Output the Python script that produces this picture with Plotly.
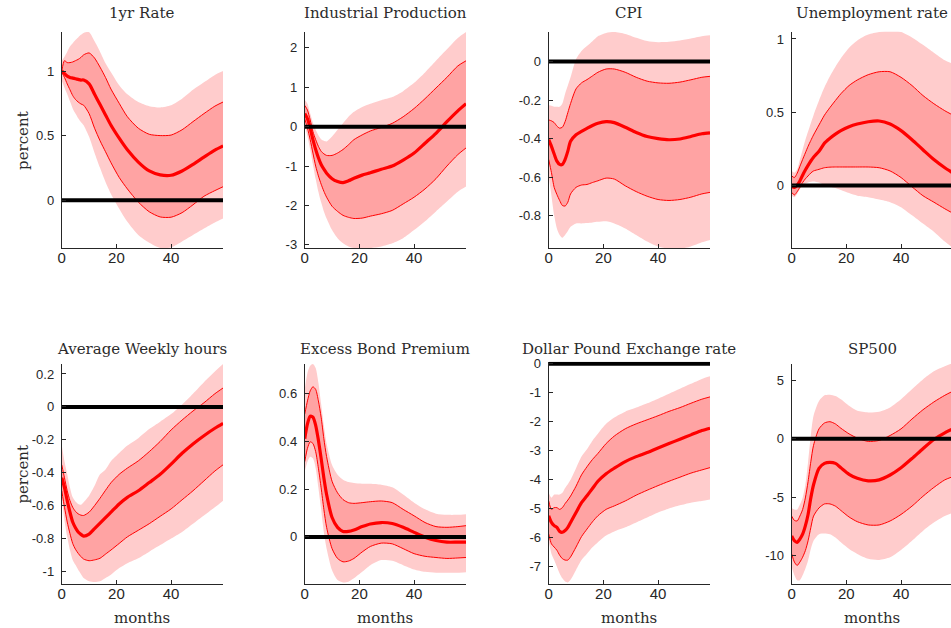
import plotly.graph_objects as go

# Impulse responses to a monetary policy shock: posterior median with
# 68% and 90% credible bands, horizons in months.
MONTHS = [0, 1, 2, 3, 4, 5, 6, 7, 8, 10, 12, 14, 16, 18, 21, 24, 28, 32, 36, 40, 44, 48, 52, 56, 59]

# 1yr Rate
rate_med = [1.0, 0.98, 0.96, 0.95, 0.945, 0.94, 0.935, 0.93, 0.93, 0.90, 0.82, 0.74, 0.66, 0.58, 0.48, 0.39, 0.295, 0.226, 0.196, 0.193, 0.226, 0.277, 0.333, 0.387, 0.42]
rate_hi68 = [1.0, 1.08, 1.065, 1.065, 1.07, 1.08, 1.09, 1.105, 1.125, 1.14, 1.10, 1.03, 0.95, 0.86, 0.75, 0.646, 0.557, 0.51, 0.50, 0.504, 0.545, 0.608, 0.67, 0.728, 0.76]
rate_lo68 = [0.99, 0.95, 0.90, 0.855, 0.81, 0.78, 0.76, 0.745, 0.735, 0.67, 0.557, 0.46, 0.375, 0.29, 0.176, 0.087, -0.015, -0.09, -0.13, -0.132, -0.097, -0.036, 0.03, 0.074, 0.104]
rate_hi90 = [1.08, 1.11, 1.15, 1.19, 1.215, 1.24, 1.26, 1.28, 1.295, 1.30, 1.23, 1.15, 1.06, 0.99, 0.89, 0.82, 0.76, 0.728, 0.718, 0.735, 0.786, 0.855, 0.913, 0.97, 1.0]
rate_lo90 = [0.926, 0.87, 0.82, 0.765, 0.71, 0.67, 0.634, 0.605, 0.58, 0.49, 0.366, 0.25, 0.14, 0.048, -0.066, -0.168, -0.27, -0.33, -0.37, -0.366, -0.32, -0.27, -0.22, -0.173, -0.142]

# Industrial Production
ip_med = [0.33, 0.2, -0.04, -0.33, -0.58, -0.79, -0.96, -1.08, -1.18, -1.32, -1.39, -1.42, -1.375, -1.31, -1.23, -1.17, -1.08, -1.0, -0.85, -0.67, -0.42, -0.17, 0.125, 0.4, 0.58]
ip_hi68 = [0.54, 0.42, 0.17, -0.125, -0.33, -0.5, -0.625, -0.69, -0.73, -0.73, -0.67, -0.58, -0.46, -0.33, -0.21, -0.11, -0.02, 0.083, 0.25, 0.46, 0.71, 0.98, 1.25, 1.54, 1.67]
ip_lo68 = [0.2, -0.04, -0.33, -0.67, -1.0, -1.25, -1.46, -1.64, -1.79, -2.02, -2.15, -2.25, -2.3, -2.33, -2.32, -2.27, -2.21, -2.125, -1.96, -1.79, -1.58, -1.32, -1.0, -0.71, -0.54]
ip_hi90 = [0.68, 0.58, 0.33, 0.1, -0.08, -0.22, -0.32, -0.36, -0.375, -0.25, -0.08, 0.083, 0.25, 0.375, 0.5, 0.58, 0.67, 0.75, 0.9, 1.11, 1.375, 1.67, 1.96, 2.25, 2.4]
ip_lo90 = [0.04, -0.25, -0.58, -0.96, -1.33, -1.65, -1.92, -2.15, -2.33, -2.625, -2.83, -2.96, -3.04, -3.08, -3.1, -3.08, -3.04, -2.96, -2.83, -2.625, -2.4, -2.15, -1.9, -1.65, -1.52]

# CPI
cpi_med = [-0.406, -0.44, -0.48, -0.517, -0.534, -0.534, -0.508, -0.465, -0.414, -0.38, -0.363, -0.347, -0.332, -0.32, -0.312, -0.317, -0.341, -0.368, -0.389, -0.4, -0.406, -0.402, -0.389, -0.375, -0.37]
cpi_hi68 = [-0.303, -0.308, -0.317, -0.335, -0.346, -0.341, -0.312, -0.265, -0.218, -0.142, -0.111, -0.094, -0.075, -0.056, -0.039, -0.039, -0.056, -0.082, -0.102, -0.111, -0.113, -0.107, -0.095, -0.082, -0.077]
cpi_lo68 = [-0.508, -0.576, -0.653, -0.69, -0.721, -0.747, -0.75, -0.73, -0.687, -0.653, -0.641, -0.638, -0.628, -0.619, -0.605, -0.61, -0.645, -0.675, -0.699, -0.716, -0.721, -0.716, -0.704, -0.687, -0.679]
cpi_hi90 = [-0.227, -0.23, -0.235, -0.235, -0.235, -0.218, -0.167, -0.125, -0.082, 0.012, 0.055, 0.08, 0.105, 0.131, 0.148, 0.153, 0.143, 0.123, 0.106, 0.1, 0.102, 0.109, 0.119, 0.131, 0.136]
cpi_lo90 = [-0.593, -0.696, -0.798, -0.866, -0.9, -0.914, -0.9, -0.88, -0.858, -0.84, -0.84, -0.838, -0.835, -0.832, -0.829, -0.84, -0.866, -0.9, -0.934, -0.96, -0.972, -0.972, -0.96, -0.938, -0.926]

# Unemployment rate
ur_med = [-0.007, -0.013, 0.002, 0.031, 0.07, 0.105, 0.137, 0.167, 0.193, 0.233, 0.289, 0.322, 0.35, 0.374, 0.401, 0.419, 0.435, 0.44, 0.419, 0.374, 0.312, 0.244, 0.177, 0.121, 0.085]
ur_hi68 = [0.065, 0.054, 0.083, 0.13, 0.177, 0.222, 0.267, 0.307, 0.345, 0.413, 0.48, 0.532, 0.58, 0.626, 0.682, 0.72, 0.756, 0.776, 0.776, 0.738, 0.682, 0.614, 0.558, 0.51, 0.48]
ur_lo68 = [-0.047, -0.065, -0.043, -0.013, 0.02, 0.045, 0.065, 0.085, 0.099, 0.11, 0.121, 0.125, 0.126, 0.126, 0.126, 0.126, 0.126, 0.121, 0.099, 0.054, -0.009, -0.07, -0.114, -0.159, -0.19]
ur_hi90 = [0.099, 0.087, 0.11, 0.175, 0.244, 0.31, 0.368, 0.425, 0.48, 0.58, 0.67, 0.745, 0.81, 0.868, 0.94, 0.99, 1.03, 1.047, 1.05, 1.047, 1.01, 0.96, 0.906, 0.854, 0.83]
ur_lo90 = [-0.07, -0.08, -0.058, -0.025, 0.002, 0.012, 0.02, 0.025, 0.027, 0.02, 0.004, -0.008, -0.018, -0.031, -0.052, -0.07, -0.08, -0.096, -0.114, -0.148, -0.204, -0.26, -0.316, -0.383, -0.428]

# Average Weekly hours
hrs_med = [-0.431, -0.49, -0.57, -0.64, -0.7, -0.735, -0.76, -0.775, -0.785, -0.773, -0.74, -0.707, -0.673, -0.64, -0.59, -0.55, -0.51, -0.46, -0.41, -0.348, -0.282, -0.225, -0.175, -0.13, -0.1]
hrs_hi68 = [-0.352, -0.431, -0.51, -0.57, -0.61, -0.635, -0.65, -0.658, -0.66, -0.64, -0.6, -0.555, -0.507, -0.461, -0.41, -0.372, -0.328, -0.272, -0.21, -0.14, -0.08, -0.025, 0.025, 0.08, 0.115]
hrs_lo68 = [-0.51, -0.61, -0.70, -0.77, -0.83, -0.865, -0.89, -0.91, -0.925, -0.935, -0.93, -0.92, -0.895, -0.87, -0.83, -0.79, -0.75, -0.71, -0.665, -0.62, -0.565, -0.51, -0.45, -0.39, -0.352]
hrs_hi90 = [-0.233, -0.332, -0.41, -0.49, -0.55, -0.575, -0.59, -0.595, -0.58, -0.54, -0.48, -0.41, -0.38, -0.33, -0.28, -0.235, -0.19, -0.135, -0.09, -0.044, 0.015, 0.08, 0.15, 0.215, 0.26]
hrs_lo90 = [-0.55, -0.69, -0.79, -0.87, -0.93, -0.96, -0.99, -1.015, -1.04, -1.06, -1.065, -1.06, -1.04, -1.02, -0.98, -0.95, -0.92, -0.88, -0.84, -0.8, -0.76, -0.71, -0.66, -0.61, -0.57]

# Excess Bond Premium
ebp_med = [0.41, 0.472, 0.504, 0.5, 0.466, 0.404, 0.328, 0.246, 0.177, 0.081, 0.04, 0.023, 0.023, 0.029, 0.043, 0.054, 0.06, 0.056, 0.04, 0.019, -0.001, -0.015, -0.022, -0.022, -0.022]
ebp_hi68 = [0.513, 0.568, 0.61, 0.627, 0.616, 0.568, 0.5, 0.41, 0.335, 0.232, 0.184, 0.156, 0.143, 0.14, 0.143, 0.147, 0.15, 0.143, 0.115, 0.088, 0.06, 0.043, 0.04, 0.043, 0.047]
ebp_lo68 = [0.314, 0.37, 0.397, 0.39, 0.356, 0.287, 0.205, 0.115, 0.04, -0.049, -0.09, -0.104, -0.101, -0.09, -0.063, -0.04, -0.026, -0.029, -0.049, -0.07, -0.081, -0.086, -0.09, -0.088, -0.086]
ebp_hi90 = [0.616, 0.685, 0.715, 0.722, 0.705, 0.644, 0.555, 0.465, 0.39, 0.3, 0.26, 0.239, 0.229, 0.225, 0.222, 0.222, 0.218, 0.207, 0.177, 0.143, 0.115, 0.097, 0.092, 0.092, 0.095]
ebp_lo90 = [0.273, 0.314, 0.335, 0.328, 0.287, 0.205, 0.115, 0.019, -0.049, -0.139, -0.18, -0.19, -0.187, -0.173, -0.146, -0.118, -0.097, -0.1, -0.118, -0.136, -0.146, -0.15, -0.15, -0.15, -0.148]

# Dollar Pound Exchange rate
fx_med = [-5.24, -5.47, -5.58, -5.64, -5.78, -5.81, -5.75, -5.64, -5.47, -5.13, -4.79, -4.55, -4.3, -4.05, -3.79, -3.6, -3.37, -3.2, -3.06, -2.9, -2.75, -2.6, -2.45, -2.3, -2.22]
fx_hi68 = [-4.73, -5.02, -4.96, -4.96, -5.02, -4.96, -4.82, -4.7, -4.56, -4.22, -3.83, -3.55, -3.3, -3.09, -2.75, -2.49, -2.24, -2.07, -1.93, -1.79, -1.64, -1.51, -1.36, -1.22, -1.14]
fx_lo68 = [-5.87, -6.21, -6.32, -6.43, -6.6, -6.72, -6.77, -6.77, -6.66, -6.32, -5.96, -5.7, -5.45, -5.24, -5.02, -4.9, -4.73, -4.53, -4.36, -4.2, -4.05, -3.91, -3.77, -3.66, -3.58]
fx_hi90 = [-4.45, -4.62, -4.51, -4.51, -4.51, -4.45, -4.28, -4.15, -4.0, -3.6, -3.2, -2.95, -2.65, -2.41, -2.07, -1.85, -1.65, -1.51, -1.36, -1.2, -1.03, -0.86, -0.69, -0.52, -0.43]
fx_lo90 = [-6.09, -6.55, -6.77, -7.0, -7.23, -7.4, -7.51, -7.54, -7.45, -7.11, -6.77, -6.55, -6.33, -6.15, -5.92, -5.78, -5.64, -5.47, -5.3, -5.13, -4.99, -4.88, -4.79, -4.73, -4.68]

# SP500
sp_med = [-8.31, -8.73, -8.87, -8.59, -8.17, -7.46, -6.48, -5.07, -3.94, -2.54, -2.11, -2.03, -2.11, -2.48, -3.04, -3.38, -3.6, -3.52, -3.1, -2.48, -1.69, -0.85, -0.06, 0.51, 0.85]
sp_hi68 = [-6.62, -6.99, -7.04, -6.62, -6.06, -5.07, -3.66, -1.97, -0.56, 0.85, 1.35, 1.46, 1.27, 0.9, 0.42, 0.06, -0.23, -0.14, 0.28, 0.85, 1.69, 2.48, 3.15, 3.72, 4.08]
sp_lo68 = [-9.86, -10.56, -10.85, -10.56, -10.14, -9.58, -8.73, -7.61, -6.62, -5.92, -5.58, -5.58, -5.77, -6.14, -6.7, -7.1, -7.38, -7.38, -7.04, -6.48, -5.77, -4.93, -4.17, -3.52, -3.24]
sp_hi90 = [-5.92, -6.06, -6.06, -5.63, -5.07, -3.94, -1.97, 0.28, 1.97, 3.24, 3.72, 3.77, 3.66, 3.38, 2.82, 2.39, 2.25, 2.31, 2.68, 3.38, 4.23, 5.07, 5.77, 6.2, 6.48]
sp_lo90 = [-10.99, -11.69, -12.11, -12.11, -11.69, -11.13, -10.42, -9.44, -8.73, -8.17, -8.11, -8.17, -8.45, -8.87, -9.44, -9.86, -10.28, -10.37, -10.14, -9.52, -8.73, -7.89, -7.18, -6.62, -6.34]

TITLES = ["1yr Rate", "Industrial Production", "CPI", "Unemployment rate",
          "Average Weekly hours", "Excess Bond Premium", "Dollar Pound Exchange rate", "SP500"]

rate_ticks = [0, 0.5, 1]
ip_ticks = [-3, -2, -1, 0, 1, 2]
cpi_ticks = [-0.8, -0.6, -0.4, -0.2, 0]
ur_ticks = [0, 0.5, 1]
hrs_ticks = [-1, -0.8, -0.6, -0.4, -0.2, 0, 0.2]
ebp_ticks = [0, 0.2, 0.4, 0.6]
fx_ticks = [-7, -6, -5, -4, -3, -2, -1, 0]
sp_ticks = [-10, -5, 0, 5]
month_ticks = [0, 20, 40]

panels = [
    (rate_med, rate_lo68, rate_hi68, rate_lo90, rate_hi90, rate_ticks, [-0.374, 1.305]),
    (ip_med, ip_lo68, ip_hi68, ip_lo90, ip_hi90, ip_ticks, [-3.09, 2.41]),
    (cpi_med, cpi_lo68, cpi_hi68, cpi_lo90, cpi_hi90, cpi_ticks, [-0.97, 0.155]),
    (ur_med, ur_lo68, ur_hi68, ur_lo90, ur_hi90, ur_ticks, [-0.43, 1.05]),
    (hrs_med, hrs_lo68, hrs_hi68, hrs_lo90, hrs_hi90, hrs_ticks, [-1.074, 0.262]),
    (ebp_med, ebp_lo68, ebp_hi68, ebp_lo90, ebp_hi90, ebp_ticks, [-0.195, 0.723]),
    (fx_med, fx_lo68, fx_hi68, fx_lo90, fx_hi90, fx_ticks, [-7.58, 0.07]),
    (sp_med, sp_lo68, sp_hi68, sp_lo90, sp_hi90, sp_ticks, [-12.4, 6.42]),
]

W, H = 951, 628
COLS_PX = [(58, 220), (302, 464), (547, 709), (791, 951)]
ROWS_PX = [(27, 247), (364, 587)]

OUTER = "rgb(255,204,204)"
INNER = "rgb(255,163,163)"
RED = "rgb(255,0,0)"
AXIS = "#262626"
SERIF = "DejaVu Serif, Liberation Serif, serif"
SANS = "Liberation Sans, Arial, Helvetica, sans-serif"


def fmt(v):
    # plain hyphen-minus, as in the original tick labels
    return "%g" % v


fig = go.Figure()
layout = dict(
    width=W, height=H,
    margin=dict(l=0, r=0, t=0, b=0),
    paper_bgcolor="white", plot_bgcolor="white",
    showlegend=False,
)
annotations = []

for i, (med, lo68, hi68, lo90, hi90, ticks, yr) in enumerate(panels):
    row, col = divmod(i, 4)
    n = i + 1
    xa = "x" if n == 1 else f"x{n}"
    ya = "y" if n == 1 else f"y{n}"
    spline = dict(shape="spline", smoothing=0.7)

    fig.add_trace(go.Scatter(x=MONTHS, y=hi90, xaxis=xa, yaxis=ya, mode="lines",
                             line=dict(width=0, **spline), hoverinfo="skip"))
    fig.add_trace(go.Scatter(x=MONTHS, y=lo90, xaxis=xa, yaxis=ya, mode="lines",
                             line=dict(width=0, **spline), fill="tonexty",
                             fillcolor=OUTER, hoverinfo="skip"))
    fig.add_trace(go.Scatter(x=MONTHS, y=hi68, xaxis=xa, yaxis=ya, mode="lines",
                             line=dict(width=0, **spline), hoverinfo="skip"))
    fig.add_trace(go.Scatter(x=MONTHS, y=lo68, xaxis=xa, yaxis=ya, mode="lines",
                             line=dict(width=0, **spline), fill="tonexty",
                             fillcolor=INNER, hoverinfo="skip"))
    for band in (hi68, lo68):
        fig.add_trace(go.Scatter(x=MONTHS, y=band, xaxis=xa, yaxis=ya, mode="lines",
                                 line=dict(color=RED, width=1, **spline)))
    fig.add_trace(go.Scatter(x=MONTHS, y=med, xaxis=xa, yaxis=ya, mode="lines",
                             line=dict(color=RED, width=3.2, **spline)))
    # zero reference line
    fig.add_trace(go.Scatter(x=[MONTHS[0], MONTHS[-1]], y=[0, 0], xaxis=xa, yaxis=ya,
                             mode="lines", line=dict(color="black", width=4)))

    x0, x1 = COLS_PX[col]
    top, bot = ROWS_PX[row]
    if 0 < yr[1] < 0.1 and ticks[-1] == 0:
        top -= 2
    xmax = MONTHS[-1] if col < 3 else MONTHS[-1] * (x1 - x0) / 162.0
    key_x = "xaxis" if n == 1 else f"xaxis{n}"
    key_y = "yaxis" if n == 1 else f"yaxis{n}"
    layout[key_x] = dict(
        domain=[x0 / W, x1 / W], anchor=ya, range=[0, xmax],
        showline=True, linecolor=AXIS, linewidth=1, mirror=False,
        showgrid=False, zeroline=False, ticks="inside", ticklen=4, tickcolor=AXIS,
        tickvals=month_ticks, ticktext=[fmt(t) for t in month_ticks],
        tickfont=dict(family=SANS, size=15, color=AXIS), ticklabelstandoff=-4,
        fixedrange=True,
    )
    layout[key_y] = dict(
        domain=[1 - bot / H, 1 - top / H], anchor=xa, range=yr,
        showline=True, linecolor=AXIS, linewidth=1, mirror=False,
        showgrid=False, zeroline=False, ticks="inside", ticklen=4, tickcolor=AXIS,
        tickvals=ticks, ticktext=[fmt(t) for t in ticks],
        tickfont=dict(family=SANS, size=13, color=AXIS), ticklabelstandoff=4,
        fixedrange=True,
    )

    # panel title
    cx = (x0 + (x0 + 162)) / 2.0
    ty = 8 if row == 0 else 349
    annotations.append(dict(text=TITLES[i], x=cx / W, y=1 - ty / H, xref="paper", yref="paper",
                            xanchor="center", yanchor="middle", showarrow=False,
                            borderpad=0,
                            font=dict(family=SERIF, size=15, color="#2b2b2b")))
    if row == 1:
        annotations.append(dict(text="months", x=cx / W, y=1 - 622 / H, xref="paper", yref="paper",
                                xanchor="center", yanchor="middle", showarrow=False,
                                borderpad=0,
                                font=dict(family=SERIF, size=15, color="#2b2b2b")))
    if col == 0:
        annotations.append(dict(text="percent", x=19 / W, y=1 - ((top + bot) / 2) / H,
                                xref="paper", yref="paper", textangle=-90,
                                xanchor="center", yanchor="middle", showarrow=False,
                                borderpad=0,
                                font=dict(family=SERIF, size=15, color="#2b2b2b")))

layout["annotations"] = annotations
fig.update_layout(**layout)
fig.write_html("out.html", config={"displayModeBar": False})
